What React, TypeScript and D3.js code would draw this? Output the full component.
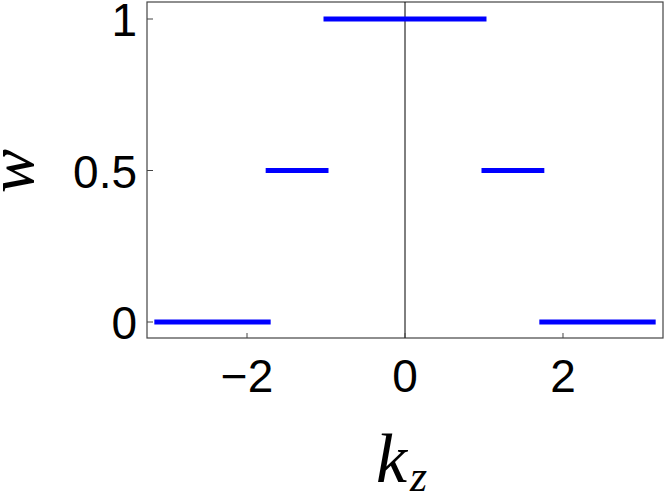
import React from "react";
import * as d3 from "d3";

const segStart = [-Math.PI, -Math.sqrt(3), -1, 1, Math.sqrt(3)];
const segEnd = [-Math.sqrt(3), -1, 1, Math.sqrt(3), Math.PI];
const segW = [0, 0.5, 1, 0.5, 0];
const xTicks = [-2, 0, 2];
const yTicks = [0, 0.5, 1];
const yTickLabels = ["0", "0.5", "1"];

export default function App() {
  const W = 664, H = 494;
  const left = 147, right = 663, top = 2, bottom = 338;
  const x = d3.scaleLinear().domain([-3.266, 3.266]).range([left, right]);
  const y = d3.scaleLinear().domain([0, 1]).range([322, 19]);
  const fmtX = (v: number) => (v < 0 ? "\u2212" + Math.abs(v) : String(v));
  return (
    <svg width={W} height={H} style={{ position: "absolute", left: 0, top: 0, background: "#fff" }}>
      <rect x={left} y={top} width={right - left} height={bottom - top} fill="white" stroke="#444" strokeWidth={1.2} />
      <line x1={x(0)} x2={x(0)} y1={top} y2={bottom} stroke="#000" strokeWidth={1} />
      {segW.map((w, i) => (
        <line key={i} x1={x(segStart[i])} x2={x(segEnd[i])} y1={y(w)} y2={y(w)} stroke="#0000ff" strokeWidth={5} strokeLinecap="square" />
      ))}
      {xTicks.map((t) => (
        <g key={t}>
          <line x1={x(t)} x2={x(t)} y1={bottom} y2={bottom - 5} stroke="#444" strokeWidth={1} />
          <text x={x(t)} y={392} textAnchor="middle" fontFamily="Liberation Sans, Arial, sans-serif" fontSize={46}>{fmtX(t)}</text>
        </g>
      ))}
      {yTicks.map((t, i) => (
        <g key={t}>
          <line x1={left} x2={left + 6} y1={y(t)} y2={y(t)} stroke="#444" strokeWidth={1} />
          <text x={137} y={y(t) + 17} textAnchor="end" fontFamily="Liberation Sans, Arial, sans-serif" fontSize={46}>{yTickLabels[i]}</text>
        </g>
      ))}
      <text transform="translate(33,171) rotate(-90)" textAnchor="middle" fontFamily="Liberation Serif, serif" fontStyle="italic" fontSize={66}>w</text>
      <text x={376} y={482} fontFamily="Liberation Serif, serif" fontStyle="italic" fontSize={70}>
        k<tspan fontSize={44} dx={3} dy={9}>z</tspan>
      </text>
    </svg>
  );
}
